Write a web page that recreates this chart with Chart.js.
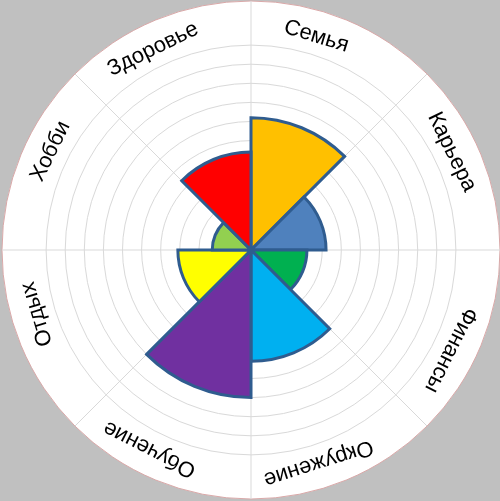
<!DOCTYPE html>
<html>
<head>
<meta charset="utf-8">
<script src="https://cdn.jsdelivr.net/npm/chart.js@4.4.1/dist/chart.umd.min.js"></script>
<style>
  html, body { margin: 0; padding: 0; background: #c0c0c0; }
  #wrap { width: 500px; height: 501px; }
</style>
</head>
<body>
<div id="wrap"><canvas id="c" width="500" height="501"></canvas></div>
<script>
// Data
const categories = ['Семья', 'Карьера', 'Финансы', 'Окружение', 'Обучение', 'Отдых', 'Хобби', 'Здоровье'];
const scores = [6.2, 3.2, 2.2, 5.1, 7.0, 3.1, 1.3, 4.4];
const ringMax = 10;

// Styles
const sliceColors = ['#FFC000', '#4F81BD', '#00B050', '#00B0F0', '#7030A0', '#FFFF00', '#92D050', '#FF0000'];
const labelNudgeDeg = [-5.5, -3.5, 4.1, 4.9, 4.5, 5.8, 3.7, -3.5];
const scaleMin = -0.73;
const scaleMax = 12.31;

const rotatedLabels = {
  id: 'rotatedLabels',
  afterDraw(chart) {
    const s = chart.scales.r;
    const ctx = chart.ctx;
    const rIn = s.getDistanceFromCenterForValue(ringMax);
    const rOut = s.getDistanceFromCenterForValue(scaleMax);
    const rad = rIn + 0.42 * (rOut - rIn);
    const half = Math.PI / categories.length;
    ctx.save();
    ctx.font = '22px "Liberation Sans", Arial, sans-serif';
    ctx.fillStyle = '#000000';
    ctx.textAlign = 'center';
    ctx.textBaseline = 'middle';
    categories.forEach((txt, i) => {
      const a = s.getIndexAngle(i) + half + labelNudgeDeg[i] * Math.PI / 180;
      const x = s.xCenter + rad * Math.sin(a);
      const y = s.yCenter - rad * Math.cos(a);
      ctx.save();
      ctx.translate(x, y);
      ctx.rotate(a);
      ctx.fillText(txt, 0, 0);
      ctx.restore();
    });
    ctx.restore();
  }
};

new Chart(document.getElementById('c'), {
  type: 'polarArea',
  data: {
    labels: categories,
    datasets: [{
      data: scores,
      backgroundColor: sliceColors,
      borderColor: '#2F5C8F',
      borderWidth: 3,
      borderJoinStyle: 'miter'
    }]
  },
  options: {
    responsive: false,
    animation: false,
    devicePixelRatio: 1,
    layout: { padding: { left: 2, top: 0, right: 0, bottom: 0 } },
    plugins: { legend: { display: false }, tooltip: { enabled: false } },
    scales: {
      r: {
        min: scaleMin,
        max: scaleMax,
        startAngle: 0,
        backgroundColor: '#ffffff',
        ticks: { display: false, stepSize: 1 },
        pointLabels: { display: false },
        angleLines: { display: true, color: '#d9d9d9', lineWidth: 1 },
        grid: {
          circular: true,
          lineWidth: 1,
          color: (c) => {
            const v = c.tick ? c.tick.value : 0;
            if (v > 12) return '#d9a8a8';
            if (v > ringMax + 0.01) return 'rgba(0,0,0,0)';
            return '#d9d9d9';
          }
        }
      }
    }
  },
  plugins: [rotatedLabels]
});
</script>
</body>
</html>
